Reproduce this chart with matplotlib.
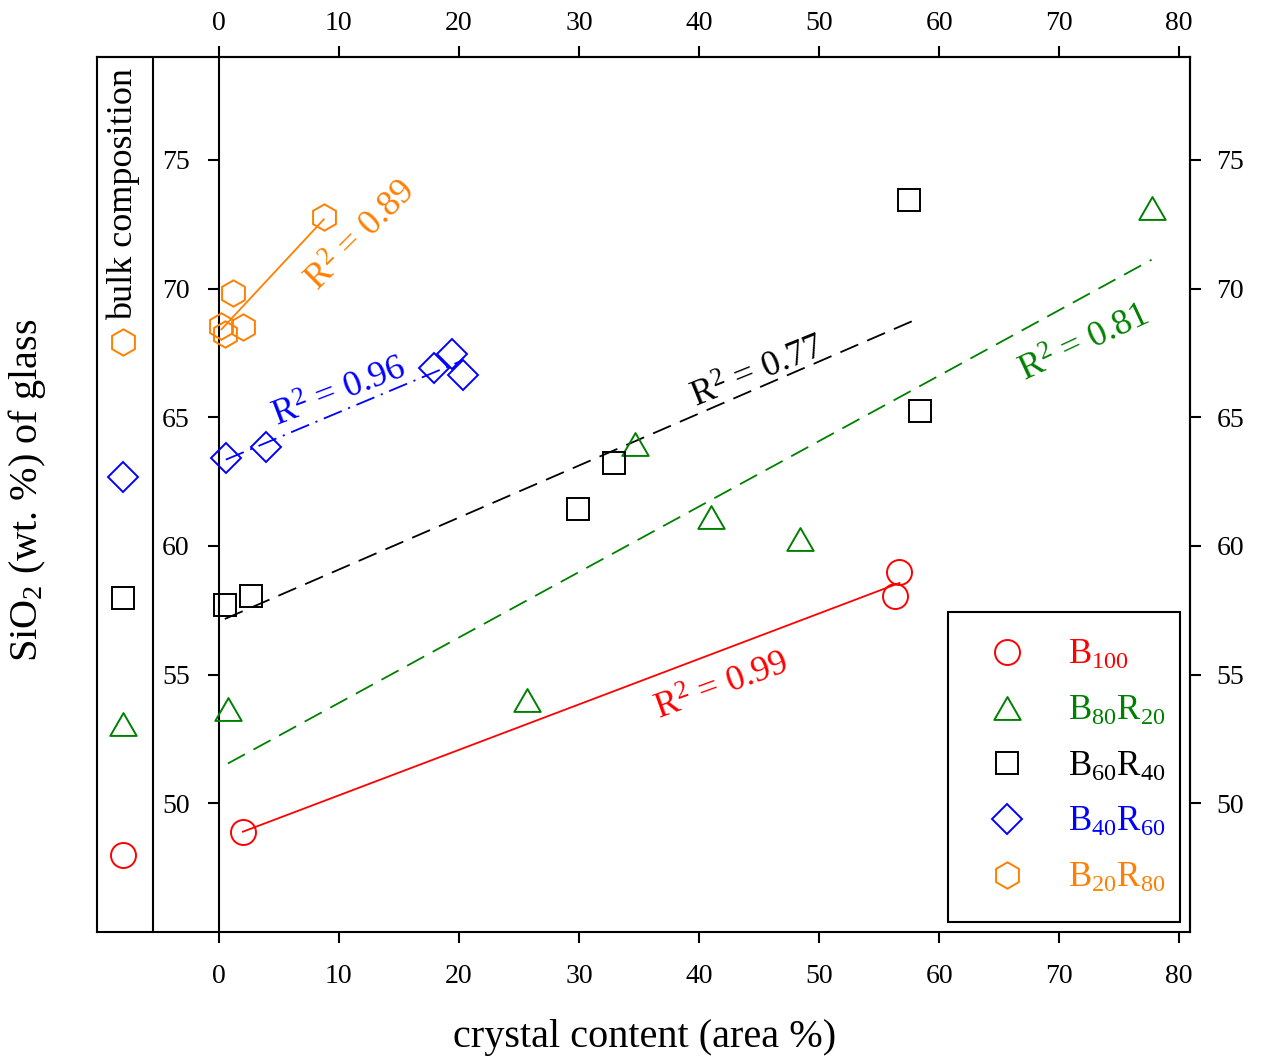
import numpy as np
import matplotlib
matplotlib.use("Agg")
import matplotlib.pyplot as plt
from matplotlib.lines import Line2D
from matplotlib.path import Path
from matplotlib.patches import Rectangle

plt.rcParams["font.family"] = "Liberation Serif"
plt.rcParams["mathtext.fontset"] = "custom"
plt.rcParams["mathtext.rm"] = "Liberation Serif"
plt.rcParams["mathtext.it"] = "Liberation Serif:italic"
plt.rcParams["mathtext.bf"] = "Liberation Serif:bold"
plt.rcParams["lines.scale_dashes"] = False

# --- DATA ---
labels = ["B$_{100}$", "B$_{80}$R$_{20}$", "B$_{60}$R$_{40}$",
          "B$_{40}$R$_{60}$", "B$_{20}$R$_{80}$"]

b100_x = [2.0, 56.7, 56.3]
b100_y = [48.9, 59.0, 58.05]

b80r20_x = [0.75, 25.7, 34.7, 41.0, 48.4, 77.7]
b80r20_y = [53.65, 54.0, 63.98, 61.14, 60.29, 73.14]

b60r40_x = [0.5, 2.66, 29.9, 32.9, 57.5, 58.4]
b60r40_y = [57.69, 58.04, 61.45, 63.24, 73.45, 65.26]

b40r60_x = [0.58, 3.9, 17.9, 19.4, 20.3]
b40r60_y = [63.43, 63.86, 66.93, 67.47, 66.65]

b20r80_x = [0.22, 0.5, 2.02, 1.19, 8.74]
b20r80_y = [68.56, 68.24, 68.5, 69.82, 72.77]

# bulk composition of each glass (plotted in the side panel)
bulk_y = [48.0, 53.1, 57.96, 62.69, 67.93]

r2_vals = [0.99, 0.81, 0.77, 0.96, 0.89]

# --- STYLE ---
colors = ["#ff0000", "#008000", "#000000", "#0000ff", "#ff7f00"]
# equilateral open triangle
tri = Path([(-1, -0.866), (1, -0.866), (0, 0.866), (-1, -0.866)],
           [Path.MOVETO, Path.LINETO, Path.LINETO, Path.CLOSEPOLY])
markers = ["o", tri, "s", "D", "h"]
msizes = [18, 19, 16, 15, 19]
fit_styles = ["-", (0, (14, 7)), (0, (14, 7)), (0, (14, 5, 1.5, 5)), "-"]

# R^2 label placement (x, y, rotation)
r2_pos = [(41.9, 54.5, 20), (72.1, 67.8, 25), (44.9, 66.7, 22),
          (10.1, 65.9, 21), (11.9, 72.0, 45)]

xs_all = [b100_x, b80r20_x, b60r40_x, b40r60_x, b20r80_x]
ys_all = [b100_y, b80r20_y, b60r40_y, b40r60_y, b20r80_y]

BULK_X = -8
SEP_X = -5.5
W, H = 1261, 1063

fig = plt.figure(figsize=(W / 100, H / 100), dpi=100)
ax = fig.add_axes([97 / W, 1 - 932 / H, (1190 - 97) / W, (932 - 57) / H])
ax.set_xlim(-10.15, 80.9)
ax.set_ylim(45, 79)

for i in range(5):
    x = np.array(xs_all[i])
    y = np.array(ys_all[i])
    coef = np.polyfit(x, y, 1)
    xl = np.array([x.min(), x.max()])
    ax.plot(xl, np.polyval(coef, xl), color=colors[i], lw=1.3,
            linestyle=fit_styles[i], zorder=2)
    ax.plot(x, y, ls="none", marker=markers[i], ms=msizes[i], mfc="none",
            mec=colors[i], mew=1.4, zorder=3)
    ax.plot([BULK_X], [bulk_y[i]], ls="none", marker=markers[i], ms=msizes[i],
            mfc="none", mec=colors[i], mew=1.4, zorder=3)
    tx, ty, rot = r2_pos[i]
    ax.text(tx, ty, "R$^2$ = %.2f" % r2_vals[i], color=colors[i], fontsize=26,
            rotation=rot, rotation_mode="anchor", ha="center", va="center")

ax.text(BULK_X, 68.8, "bulk composition", rotation=90, fontsize=26,
        ha="center", va="bottom")

# frame: left y axis sits at x = 0, panel separator and outer edge drawn by hand
ax.axvline(SEP_X, color="k", lw=1.5)
ax.plot([0, 0], [0, 1], transform=ax.transAxes, color="k", lw=1.5, clip_on=False)
ax.spines["left"].set_position(("data", 0))
for s in ax.spines.values():
    s.set_linewidth(1.5)

xticks = list(range(0, 81, 10))
yticks = [50, 55, 60, 65, 70, 75]
ax.set_xticks(xticks)
ax.set_yticks(yticks)
ax.tick_params(axis="x", direction="out", length=8, width=1.5, labelsize=20, pad=15)
ax.tick_params(axis="y", direction="out", length=8, width=1.5, labelsize=20, pad=13)

top = ax.secondary_xaxis("top")
top.set_xticks(xticks)
top.tick_params(direction="out", length=8, width=1.5, labelsize=20, pad=7)
top.spines["top"].set_linewidth(1.5)

right = ax.secondary_yaxis("right")
right.set_yticks(yticks)
right.tick_params(direction="out", length=8, width=1.5, labelsize=20, pad=11)
right.spines["right"].set_linewidth(1.5)

# legend box
box = Rectangle((948 / W, 1 - 922 / H), (1180 - 948) / W, (922 - 612) / H,
                transform=fig.transFigure, facecolor="white", edgecolor="k",
                lw=1.5, zorder=4, clip_on=False)
ax.add_patch(box)

handles = [Line2D([], [], ls="none", marker=markers[i], ms=msizes[i], mfc="none",
                  mec=colors[i], mew=1.4) for i in range(5)]
leg = ax.legend(handles, labels, loc="center left",
                bbox_to_anchor=(989.6 / W, 1 - 767 / H),
                bbox_transform=fig.transFigure, borderaxespad=0, borderpad=0,
                fontsize=25, labelcolor=colors, frameon=False,
                handlelength=1.0, handletextpad=1.26, labelspacing=0.65)
leg.set_zorder(5)

fig.text(27 / W, 1 - 490 / H, "SiO$_2$ (wt. %) of glass", rotation=90,
         fontsize=29, ha="center", va="center")
fig.text(645 / W, 1 - 1038 / H, "crystal content (area %)",
         fontsize=29, ha="center", va="center")

fig.savefig("out.png", dpi=100)
